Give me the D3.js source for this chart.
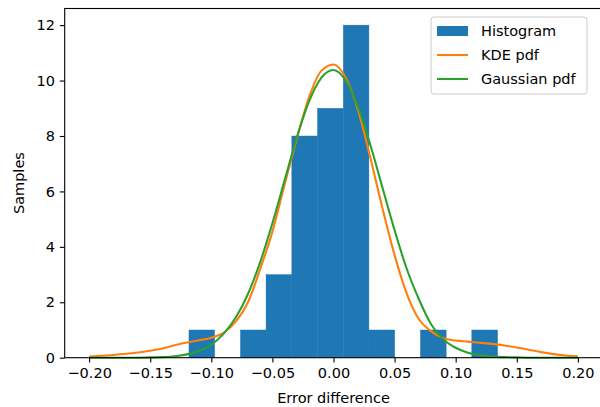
<!DOCTYPE html>
<html>
<head>
<meta charset="utf-8">
<script src="https://cdn.jsdelivr.net/npm/d3@7"></script>
<style>
  html, body { margin: 0; padding: 0; background: #fff; }
  svg { display: block; font-family: "DejaVu Sans", sans-serif; }
</style>
</head>
<body>
<svg id="chart" width="600" height="407"></svg>
<script>
// ---- data ----
const binEdges = [-0.1183, -0.0973, -0.0762, -0.0552, -0.0341, -0.0131, 0.0080, 0.0290, 0.0501, 0.0711, 0.0922, 0.1132, 0.1343];
const histCounts = [1, 0, 1, 3, 8, 9, 12, 1, 0, 1, 0, 1];

const pdfX = [-0.20, -0.19, -0.18, -0.17, -0.16, -0.15, -0.14, -0.13, -0.12, -0.11,
              -0.10, -0.09, -0.08, -0.07, -0.06, -0.05, -0.04, -0.03, -0.02, -0.01,
               0.00,  0.01,  0.02,  0.03,  0.04,  0.05,  0.06,  0.07,  0.08,  0.09,
               0.10,  0.11,  0.12,  0.13,  0.14,  0.15,  0.16,  0.17,  0.18,  0.19, 0.20];
const kdePdf = [0.04, 0.07, 0.10, 0.14, 0.19, 0.25, 0.33, 0.45, 0.55, 0.63,
                0.72, 0.90, 1.30, 2.00, 3.20, 4.55, 6.25, 7.90, 9.40, 10.35,
                10.58, 10.10, 8.95, 7.25, 5.40, 3.70, 2.30, 1.38, 0.95, 0.70,
                0.62, 0.58, 0.54, 0.50, 0.44, 0.37, 0.29, 0.20, 0.13, 0.08, 0.05];
const gaussPdf = [0.00, 0.00, 0.00, 0.00, 0.00, 0.01, 0.02, 0.05, 0.12, 0.25,
                  0.47, 0.86, 1.45, 2.30, 3.45, 4.85, 6.40, 7.95, 9.25, 10.10,
                  10.38, 10.00, 9.05, 7.70, 6.15, 4.60, 3.20, 2.10, 1.20, 0.66,
                  0.36, 0.18, 0.09, 0.04, 0.02, 0.01, 0.00, 0.00, 0.00, 0.00, 0.00];

const xTicks = [-0.20, -0.15, -0.10, -0.05, 0.00, 0.05, 0.10, 0.15, 0.20];
const yTicks = [0, 2, 4, 6, 8, 10, 12];
const legendLabels = ["Histogram", "KDE pdf", "Gaussian pdf"];
const xLabel = "Error difference";
const yLabel = "Samples";

// ---- styles ----
const C_BLUE = "#1f77b4", C_ORANGE = "#ff7f0e", C_GREEN = "#2ca02c";
const FONT = 14.5;

const svg = d3.select("#chart");
const x = d3.scaleLinear().domain([-0.22, 0.22]).range([64.7, 602.3]);
const y = d3.scaleLinear().domain([0, 12.6]).range([357.7, 8.5]);

// histogram bars
const bins = histCounts.map((c, i) => ({x0: binEdges[i], x1: binEdges[i + 1], c}));
svg.append("g").selectAll("rect").data(bins.filter(b => b.c > 0)).join("rect")
  .attr("x", d => x(d.x0))
  .attr("y", d => y(d.c))
  .attr("width", d => x(d.x1) - x(d.x0))
  .attr("height", d => y(0) - y(d.c))
  .attr("fill", C_BLUE)
  .attr("stroke", C_BLUE).attr("stroke-width", 0.4);

// pdf lines
const line = d3.line().x(d => x(d[0])).y(d => y(d[1])).curve(d3.curveMonotoneX);
svg.append("path").datum(pdfX.map((v, i) => [v, kdePdf[i]]))
  .attr("d", line).attr("fill", "none").attr("stroke", C_ORANGE).attr("stroke-width", 2.1);
svg.append("path").datum(pdfX.map((v, i) => [v, gaussPdf[i]]))
  .attr("d", line).attr("fill", "none").attr("stroke", C_GREEN).attr("stroke-width", 2.1);

// frame (spines)
svg.append("rect")
  .attr("x", x(-0.22)).attr("y", y(12.6))
  .attr("width", x(0.22) - x(-0.22)).attr("height", y(0) - y(12.6))
  .attr("fill", "none").attr("stroke", "#000").attr("stroke-width", 1.1);

// axes
const xAxis = d3.axisBottom(x).tickValues(xTicks).tickFormat(d3.format(".2f"))
  .tickSize(4.9).tickPadding(4.9);
const gx = svg.append("g").attr("transform", `translate(0,${y(0)})`).call(xAxis);
const yAxis = d3.axisLeft(y).tickValues(yTicks).tickFormat(d3.format("d"))
  .tickSize(4.9).tickPadding(4.9);
const gy = svg.append("g").attr("transform", `translate(${x(-0.22)},0)`).call(yAxis);
[gx, gy].forEach(g => {
  g.select(".domain").remove();
  g.selectAll(".tick line").attr("stroke", "#000").attr("stroke-width", 1.1);
  g.selectAll(".tick text").attr("fill", "#000").style("font-size", FONT + "px")
    .style("font-family", "DejaVu Sans");
});

// axis labels
svg.append("text").attr("x", x(0)).attr("y", 403)
  .attr("text-anchor", "middle").style("font-size", FONT + "px").attr("fill", "#000")
  .text(xLabel);
svg.append("text").attr("transform", `translate(24,${(y(0) + y(12.6)) / 2}) rotate(-90)`)
  .attr("text-anchor", "middle").style("font-size", FONT + "px").attr("fill", "#000")
  .text(yLabel);

// legend
const lg = svg.append("g");
lg.append("rect").attr("x", 431).attr("y", 17).attr("width", 156).attr("height", 77)
  .attr("rx", 3).attr("fill", "#fff").attr("fill-opacity", 0.8)
  .attr("stroke", "#cccccc").attr("stroke-width", 1);
const rowY = [31, 55, 79];
const handleColors = [C_BLUE, C_ORANGE, C_GREEN];
legendLabels.forEach((lab, i) => {
  if (i === 0) {
    lg.append("rect").attr("x", 437).attr("y", rowY[i] - 5).attr("width", 31).attr("height", 10)
      .attr("fill", handleColors[i]);
  } else {
    lg.append("line").attr("x1", 437).attr("x2", 468).attr("y1", rowY[i]).attr("y2", rowY[i])
      .attr("stroke", handleColors[i]).attr("stroke-width", 2.1);
  }
  lg.append("text").attr("x", 481).attr("y", rowY[i]).attr("dy", "0.36em")
    .style("font-size", FONT + "px").attr("fill", "#000").text(lab);
});
</script>
</body>
</html>
